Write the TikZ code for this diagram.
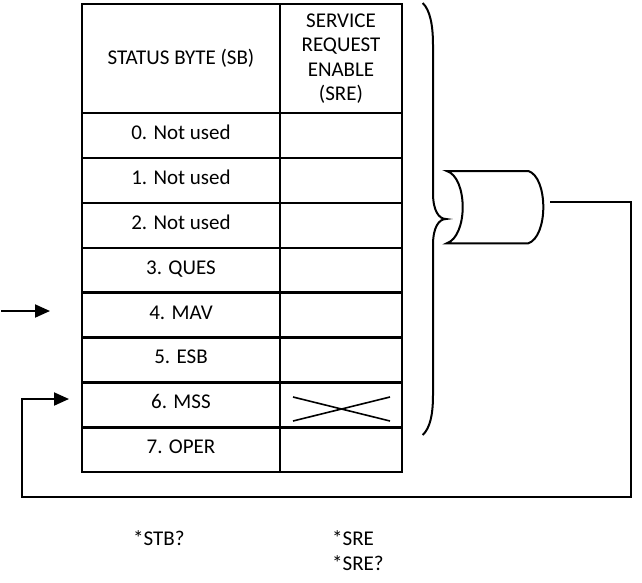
\documentclass[tikz,border=0pt]{standalone}
\usepackage{fontspec}
\setmainfont{Carlito}
\usetikzlibrary{arrows.meta}
\begin{document}
\begin{tikzpicture}[x=1pt,y=-1pt,
  cell/.style={draw, line width=2.4pt, inner sep=0pt, text height=14pt, text depth=6pt,
    font=\fontsize{21}{24.5}\selectfont},
  leftcol/.style={cell, minimum width=198pt},
  rightcol/.style={cell, minimum width=122pt},
  hdr/.style={draw, line width=2.4pt, inner sep=0pt, minimum height=109pt, align=center,
    font=\fontsize{21}{24.5}\selectfont},
  conn/.style={line width=2pt},
  tip/.style={-{Triangle[length=15pt,width=13pt]}},
  curve/.style={line width=2pt},
  lbl/.style={font=\fontsize{21}{24.5}\selectfont, inner sep=0pt}
]
\useasboundingbox (0,0) rectangle (642,582);

% header
\node[hdr, minimum width=198pt] (sbh) at (181,58.5) {STATUS BYTE (SB)};
\node[hdr, minimum width=122pt] (sreh) at (341,58.5) {SERVICE\\REQUEST\\ENABLE\\(SRE)};

% rows
\foreach \lab [count=\i from 0] in {0. Not used,1. Not used,2. Not used,3. QUES,4. MAV,5. ESB,6. MSS,7. OPER}{
  \node[leftcol, minimum height=44.9pt] (sb\i) at (181,{135.45+44.9*\i}) {\lab};
  \node[rightcol, minimum height=44.9pt] (sre\i) at (341,{135.45+44.9*\i}) {};
}

% X in SRE bit 6
\draw[line width=1.6pt] (293,397) -- (390,421);
\draw[line width=1.6pt] (293,421) -- (390,397);

% brace
\draw[curve] (422.7,3) .. controls (430,10) and (433,25) .. (433,45)
  -- (433,193) .. controls (433,211) and (439,219) .. (446,219)
  .. controls (439,219) and (433,227) .. (433,245)
  -- (433,395) .. controls (433,415) and (430,428) .. (422.7,435);

% gate
\draw[curve] (446.7,171) .. controls (457,174) and (462.7,190) .. (462.7,207.2)
  .. controls (462.7,224) and (457,240) .. (446.7,243.3)
  -- (528.3,243.3) .. controls (538,240) and (543.3,224) .. (543.3,207.2)
  .. controls (543.3,190) and (538,174) .. (528.3,171) -- cycle;

% connectors
\coordinate (gout) at (550,201.7);
\coordinate (rc) at (630.7,496.7);
\coordinate (lc) at (21.7,496.7);
\coordinate (mssin) at (69,399);
\coordinate (mavsrc) at (1,311);
\coordinate (mavin) at (50,311);
\draw[conn] (gout) -| (rc) -- (lc) |- ([xshift=-14pt]mssin);
\draw[conn,tip] ([xshift=-16pt]mssin) -- (mssin);
\draw[conn,tip] (mavsrc) -- (mavin);

% commands
\node[lbl, anchor=west] (stb) at (133,538) {*STB?};
\node[lbl, anchor=west] (sre) at (332,538) {*SRE};
\node[lbl, anchor=west] (sreq) at (332,563) {*SRE?};
\end{tikzpicture}
\end{document}
